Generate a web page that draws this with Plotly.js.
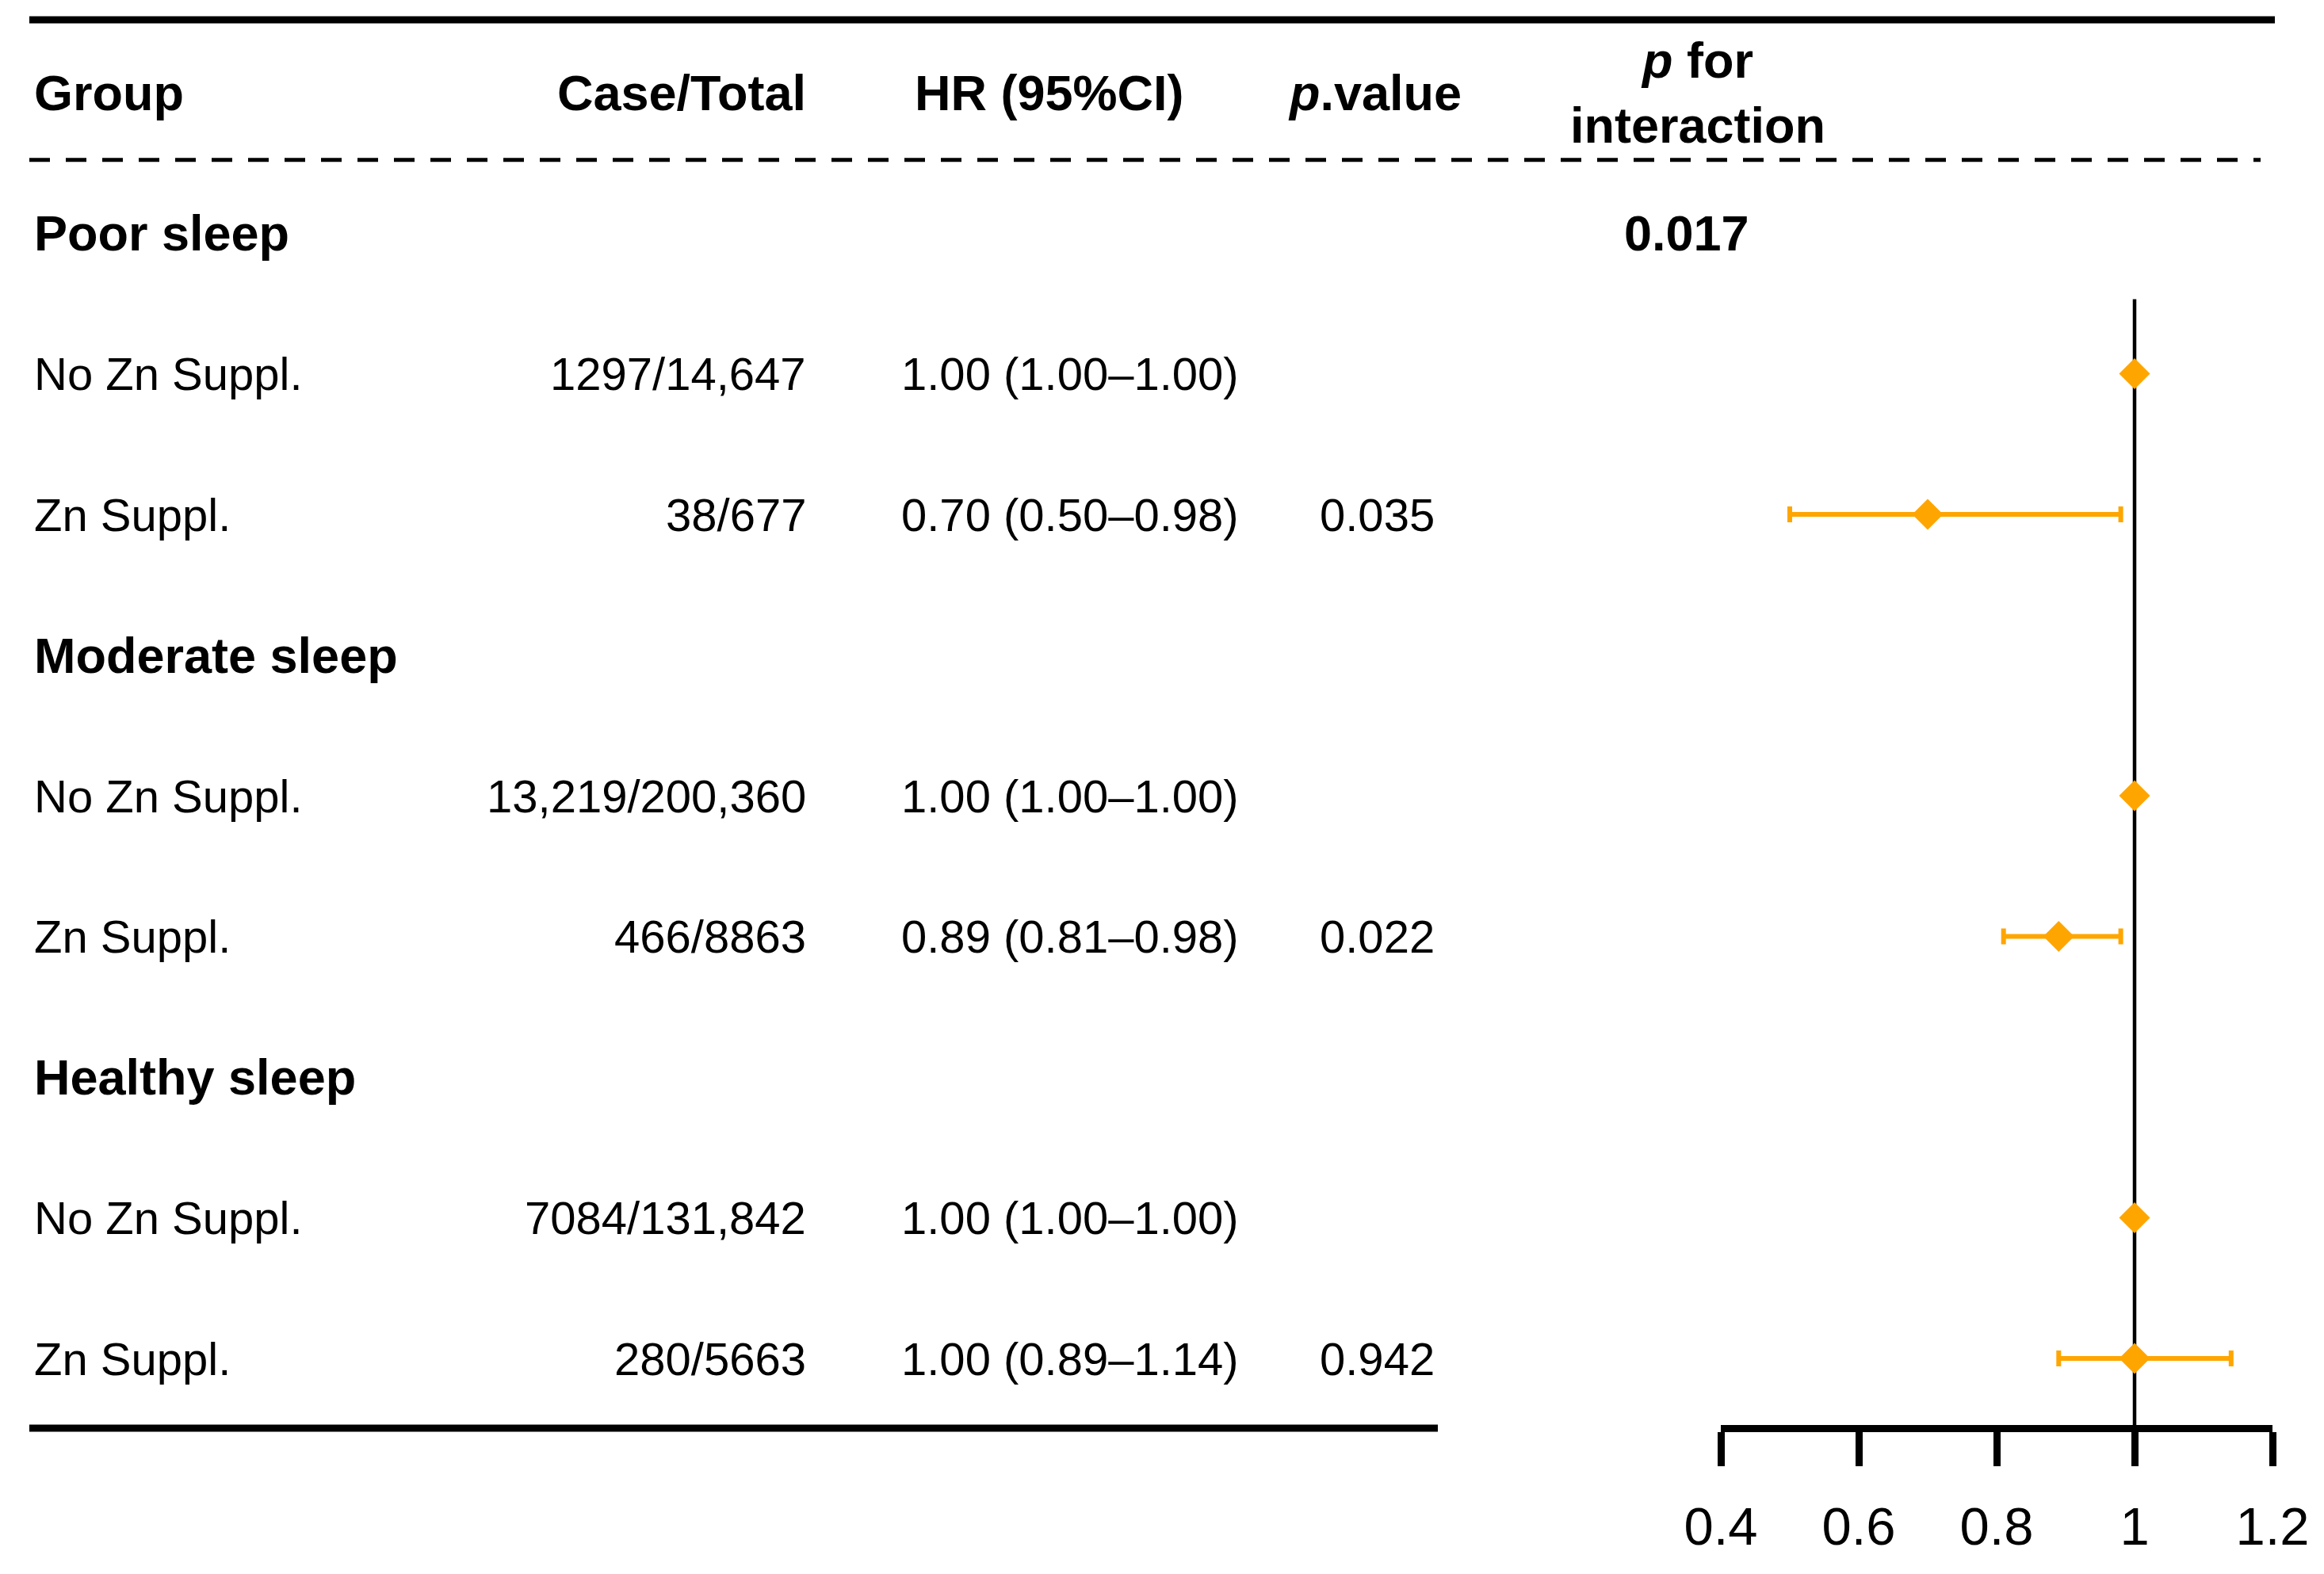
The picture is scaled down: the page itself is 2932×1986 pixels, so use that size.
<!DOCTYPE html>
<html>
<head>
<meta charset="utf-8">
<script src="https://cdn.plot.ly/plotly-3.0.1.min.js"></script>
<style>html,body{margin:0;padding:0;background:#fff;}#chart{width:2932px;height:1986px;}</style>
</head>
<body>
<div id="chart"></div>
<script>
// ---------- data ----------
const rowLabels = ["Poor sleep", "No Zn Suppl.", "Zn Suppl.",
                   "Moderate sleep", "No Zn Suppl.", "Zn Suppl.",
                   "Healthy sleep", "No Zn Suppl.", "Zn Suppl."];
const isGroupRow = [true, false, false, true, false, false, true, false, false];
const caseTotal = ["", "1297/14,647", "38/677",
                   "", "13,219/200,360", "466/8863",
                   "", "7084/131,842", "280/5663"];
const hr    = [null, 1.00, 0.70, null, 1.00, 0.89, null, 1.00, 1.00];
const lower = [null, 1.00, 0.50, null, 1.00, 0.81, null, 1.00, 0.89];
const upper = [null, 1.00, 0.98, null, 1.00, 0.98, null, 1.00, 1.14];
const pValue = ["", "", "0.035", "", "", "0.022", "", "", "0.942"];
const pInteraction = ["0.017", "", "", "", "", "", "", "", ""];
const headers = ["Group", "Case/Total", "HR (95%CI)", "<i>p</i>.value", "<i>p</i> for<br>interaction"];
const xTicks = [0.4, 0.6, 0.8, 1, 1.2];
const xTickLabels = ["0.4", "0.6", "0.8", "1", "1.2"];

// ---------- layout helpers ----------
const W = 2932, H = 1986;
const FONT = "Liberation Sans, Arial, Helvetica, sans-serif";
const rows = rowLabels.map((_, i) => i);
const px = v => v / W;

const fmt = v => v.toFixed(2);
const hrText = hr.map((v, i) => v === null ? "" : `${fmt(v)} (${fmt(lower[i])}\u2013${fmt(upper[i])})`);

const annotations = [];
function addText(text, x, y, anchor, bold, size) {
  annotations.push({
    text: bold ? `<b>${text}</b>` : text,
    x: x, y: y, xref: "paper", yref: "y",
    xanchor: anchor, yanchor: "middle", showarrow: false,
    font: {family: FONT, size: size, color: "#000"}
  });
}
// headers (row -1)
addText(headers[0], px(41), -1, "left", true, 63);
addText(headers[1], px(1019), -1, "right", true, 63);
addText(headers[2], px(1324), -1, "center", true, 63);
addText(headers[3], px(1734), -1, "center", true, 63);
addText(headers[4], px(2142), -1, "center", true, 63);

rows.forEach(i => {
  addText(rowLabels[i], px(41), i, "left", isGroupRow[i], isGroupRow[i] ? 63 : 58);
  if (caseTotal[i]) addText(caseTotal[i], px(1019), i, "right", false, 58);
  if (hrText[i]) addText(hrText[i], px(1350), i, "center", false, 58);
  if (pValue[i]) addText(pValue[i], px(1737), i, "center", false, 58);
  if (pInteraction[i]) addText(pInteraction[i], px(2128), i, "center", true, 63);
});

const shapes = [
  {type: "line", xref: "paper", yref: "y", x0: px(37), x1: px(2870), y0: -1.515, y1: -1.515,
   line: {color: "#000", width: 9}},
  {type: "line", xref: "paper", yref: "y", x0: px(37), x1: px(2852), y0: -0.52, y1: -0.52,
   line: {color: "#000", width: 5, dash: "26px,20px"}},
  {type: "line", xref: "paper", yref: "y", x0: px(37), x1: px(1814), y0: 8.496, y1: 8.496,
   line: {color: "#000", width: 9}},
  {type: "line", xref: "x", yref: "y", x0: 1, x1: 1, y0: 0.47, y1: 8.496, layer: "below",
   line: {color: "#000", width: 4.5}}
];

const trace = {
  type: "scatter", mode: "markers",
  x: hr, y: rows,
  marker: {symbol: "diamond", size: 30, color: "#FFA500", line: {width: 0}},
  error_x: {
    type: "data", symmetric: false,
    array: hr.map((v, i) => v === null ? null : upper[i] - v),
    arrayminus: hr.map((v, i) => v === null ? null : v - lower[i]),
    color: "#FFA500", thickness: 6, width: 10
  },
  hoverinfo: "skip", showlegend: false, cliponaxis: false
};

const layout = {
  width: W, height: H,
  margin: {l: 0, r: 0, t: 0, b: 0, pad: 0},
  paper_bgcolor: "#fff", plot_bgcolor: "rgba(0,0,0,0)",
  showlegend: false,
  xaxis: {
    domain: [px(2171), px(2867)], range: [0.4, 1.2],
    anchor: "free", position: 184 / H,
    showgrid: false, zeroline: false,
    showline: true, linewidth: 9, linecolor: "#000",
    ticks: "outside", ticklen: 43, tickwidth: 9, tickcolor: "#000",
    ticklabelstandoff: 19,
    tickmode: "array", tickvals: xTicks, ticktext: xTickLabels,
    tickfont: {family: FONT, size: 67, color: "#000"},
    fixedrange: true
  },
  yaxis: {
    domain: [0, 1], range: [(H - 294) / 177.5, -294 / 177.5],
    visible: false, showgrid: false, zeroline: false, fixedrange: true
  },
  annotations: annotations,
  shapes: shapes
};

Plotly.newPlot("chart", [trace], layout, {staticPlot: true, displayModeBar: false});
</script>
</body>
</html>
